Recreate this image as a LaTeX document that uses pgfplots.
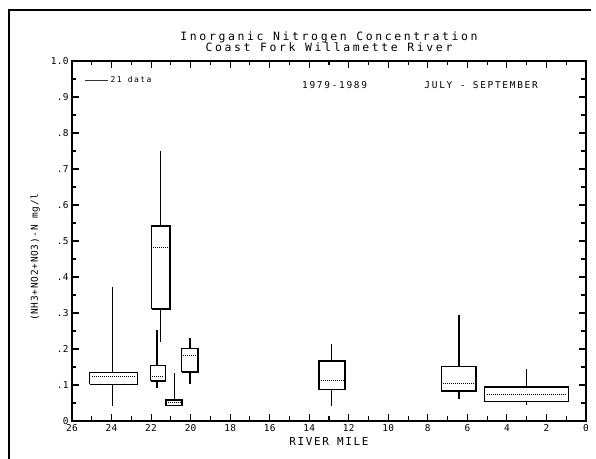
\documentclass[border=0pt]{standalone}
\usepackage{fontspec}
\usepackage{pgfplots}
\pgfplotsset{compat=1.18}
\newfontfamily\plotfont{DejaVu Sans Mono}
\newcommand\pf[2]{\plotfont\addfontfeature{LetterSpace=#2}\fontsize{#1}{#1}\selectfont}

\pgfplotsset{
  boxframe/.style={black, line width=1.4bp, line join=miter, mark=none, forget plot},
  whisker/.style={black, line width=1.4bp, mark=none, forget plot, unbounded coords=jump},
  medianline/.style={black, line width=1bp, dash pattern=on 1bp off 1bp, mark=none, forget plot},
}

\begin{document}
\begin{tikzpicture}
\begin{axis}[
  at={(0,0)}, anchor=south west,
  scale only axis, width=514bp, height=360bp,
  xmin=0, xmax=26, x dir=reverse,
  ymin=0, ymax=1,
  xtick={0,2,...,26},
  minor x tick num=1,
  ytick={0,0.1,0.2,0.3,0.4,0.5,0.6,0.7,0.8,0.9,1.0},
  yticklabels={0,.1,.2,.3,.4,.5,.6,.7,.8,.9,1.0},
  minor y tick num=1,
  tick align=inside,
  xtick pos=both, ytick pos=both,
  xticklabel pos=lower, yticklabel pos=left,
  major tick length=7bp, minor tick length=4.5bp,
  every tick/.style={black, line width=1.1bp},
  axis line style={line width=1.5bp},
  clip=false,
  /pgf/number format/assume math mode=true,
  ticklabel style={font=\pf{9.5}{3}},
  title={Inorganic Nitrogen Concentration\\Coast Fork Willamette River},
  title style={at={(0.5,1)}, anchor=south, yshift=3bp, align=center,
    font=\pf{11.5}{23}, inner sep=0pt},
  xlabel={RIVER MILE},
  xlabel style={font=\pf{11}{15}, yshift=1bp},
  ylabel={(NH3+NO2+NO3)-N mg/l},
  ylabel style={font=\pf{9.5}{8}, at={(ticklabel cs:0.455)}, yshift=4bp},
  legend style={draw=none, fill=none, at={(0.025,0.947)}, anchor=west,
    font=\pf{8}{18}, inner sep=0pt},
  legend image code/.code={\draw[line width=0.6bp, black!80] (0,0) -- (23bp,0);},
]
\addlegendimage{black}
\addlegendentry{21 data}

% river mile 24
\addplot[boxframe] coordinates {(25.1,0.102) (22.7,0.102) (22.7,0.134) (25.1,0.134) (25.1,0.102)};
\addplot[whisker] coordinates {(23.94,0.134) (23.94,0.371) (nan,nan) (23.94,0.102) (23.94,0.042)};
\addplot[medianline] coordinates {(25.0,0.123) (22.8,0.123)};

% river mile 21.7
\addplot[boxframe] coordinates {(22.02,0.111) (21.28,0.111) (21.28,0.154) (22.02,0.154) (22.02,0.111)};
\addplot[whisker] coordinates {(21.7,0.154) (21.7,0.253) (nan,nan) (21.7,0.111) (21.7,0.091)};
\addplot[medianline] coordinates {(21.95,0.123) (21.35,0.123)};

% river mile 21.5
\addplot[boxframe] coordinates {(21.97,0.311) (21.04,0.311) (21.04,0.542) (21.97,0.542) (21.97,0.311)};
\addplot[whisker] coordinates {(21.51,0.542) (21.51,0.75) (nan,nan) (21.51,0.311) (21.51,0.22)};
\addplot[medianline] coordinates {(21.9,0.481) (21.1,0.481)};

% river mile 20.8
\addplot[boxframe] coordinates {(21.25,0.043) (20.44,0.043) (20.44,0.058) (21.25,0.058) (21.25,0.043)};
\addplot[whisker] coordinates {(20.82,0.058) (20.82,0.132)};
\addplot[medianline] coordinates {(21.15,0.051) (20.5,0.051)};

% river mile 20
\addplot[boxframe] coordinates {(20.45,0.136) (19.63,0.136) (19.63,0.202) (20.45,0.202) (20.45,0.136)};
\addplot[whisker] coordinates {(20.03,0.202) (20.03,0.231) (nan,nan) (20.03,0.136) (20.03,0.103)};
\addplot[medianline] coordinates {(20.38,0.181) (19.7,0.181)};

% river mile 12.9
\addplot[boxframe] coordinates {(13.51,0.087) (12.19,0.087) (12.19,0.167) (13.51,0.167) (13.51,0.087)};
\addplot[whisker] coordinates {(12.87,0.167) (12.87,0.213) (nan,nan) (12.87,0.087) (12.87,0.043)};
\addplot[medianline] coordinates {(13.42,0.113) (12.27,0.113)};

% river mile 6.4
\addplot[boxframe] coordinates {(7.32,0.083) (5.57,0.083) (5.57,0.151) (7.32,0.151) (7.32,0.083)};
\addplot[whisker] coordinates {(6.43,0.151) (6.43,0.294) (nan,nan) (6.43,0.083) (6.43,0.062)};
\addplot[medianline] coordinates {(7.22,0.105) (5.66,0.105)};

% river mile 3
\addplot[boxframe] coordinates {(5.13,0.054) (0.9,0.054) (0.9,0.094) (5.13,0.094) (5.13,0.054)};
\addplot[whisker] coordinates {(3.0,0.094) (3.0,0.144) (nan,nan) (3.0,0.054) (3.0,0.044)};
\addplot[medianline] coordinates {(5.03,0.073) (1.0,0.073)};

\node[font=\pf{9.5}{18}] at (rel axis cs:0.511,0.933) {1979-1989};
\node[font=\pf{9.5}{18}] at (rel axis cs:0.796,0.933) {JULY - SEPTEMBER};
\end{axis}
% page frame
\draw[line width=2.2bp] (-63bp,-38bp) -- (-63bp,411bp) -- (519bp,411bp);
\pgfresetboundingbox
\useasboundingbox (-72bp,-38bp) rectangle (524bp,421bp);
\end{tikzpicture}
\end{document}
